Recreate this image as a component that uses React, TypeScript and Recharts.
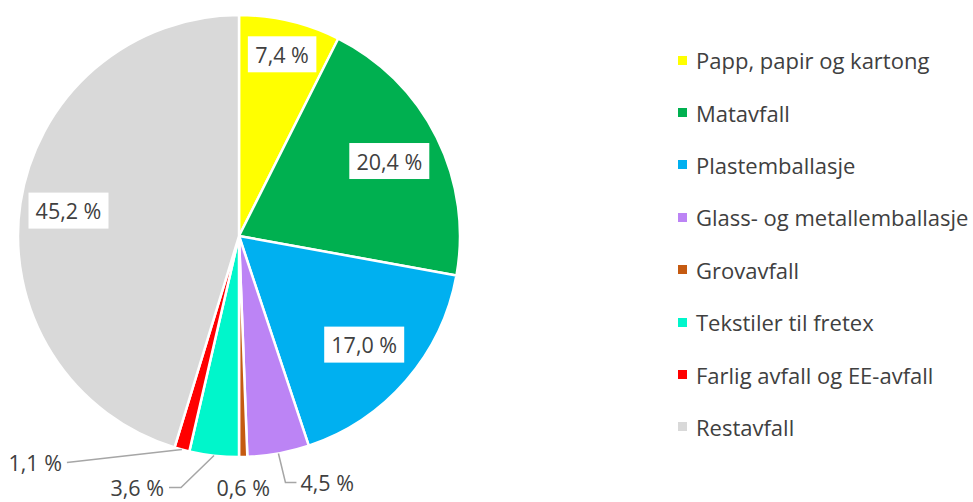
import { PieChart, Pie, Cell, Legend } from "recharts";

const categories = [
  "Papp, papir og kartong",
  "Matavfall",
  "Plastemballasje",
  "Glass- og metallemballasje",
  "Grovavfall",
  "Tekstiler til fretex",
  "Farlig avfall og EE-avfall",
  "Restavfall",
];
const shares = [7.4, 20.4, 17.0, 4.5, 0.6, 3.6, 1.1, 45.2];
const colors = [
  "#FFFF00",
  "#00B050",
  "#00B0F0",
  "#BC84F5",
  "#C55A11",
  "#00F6CB",
  "#FF0000",
  "#D9D9D9",
];

const data = categories.map((name, i) => ({ name, value: shares[i] }));

const RAD = Math.PI / 180;
const FONT = "'Open Sans', Lato, sans-serif";
const TEXT = "#404040";

const fmt = (v: number) => v.toFixed(1).replace(".", ",") + " %";

// radius factor for labels drawn inside the slice
const insideR: Record<number, number> = { 0: 0.845, 1: 0.76, 2: 0.75, 7: 0.78 };
// leader lines for the small slices: elbow offset from the slice edge, then a short tail
const outside: Record<number, { ex: number; ey: number; tail: number; line: boolean }> = {
  3: { ex: 7, ey: 29, tail: 11, line: true },
  4: { ex: 0, ey: 31, tail: 0, line: false },
  5: { ex: -33, ey: 32, tail: -12, line: true },
  6: { ex: -115, ey: 13, tail: 0, line: true },
};

function renderLabel(props: any) {
  const { cx, cy, midAngle, outerRadius, index, value } = props;
  const cos = Math.cos(-midAngle * RAD);
  const sin = Math.sin(-midAngle * RAD);
  const text = fmt(value);
  if (insideR[index] !== undefined) {
    const r = outerRadius * insideR[index];
    const x = cx + r * cos;
    const y = cy + r * sin;
    const w = text.length * 11.5 + 11;
    return (
      <g key={`l-${index}`}>
        <rect x={x - w / 2} y={y - 18} width={w} height={36} fill="#fff" />
        <text x={x} y={y} textAnchor="middle" dominantBaseline="central" fill={TEXT} fontSize={21.5} fontFamily={FONT}>
          {text}
        </text>
      </g>
    );
  }
  const o = outside[index];
  const sx = cx + outerRadius * cos;
  const sy = cy + outerRadius * sin;
  const ex = sx + o.ex;
  const ey = sy + o.ey;
  const tx = ex + o.tail;
  let anchor: "start" | "end" | "middle" = "middle";
  let lx = tx;
  if (o.line) {
    anchor = o.tail >= 0 && o.ex > 0 ? "start" : "end";
    lx = anchor === "start" ? tx + 4 : tx - 5;
  }
  return (
    <g key={`l-${index}`}>
      {o.line && (
        <polyline
          points={`${sx},${sy} ${ex},${ey} ${tx},${ey}`}
          fill="none"
          stroke="#a6a6a6"
          strokeWidth={1.5}
        />
      )}
      <text x={lx} y={ey} textAnchor={anchor} dominantBaseline="central" fill={TEXT} fontSize={21.5} fontFamily={FONT}>
        {text}
      </text>
    </g>
  );
}

function LegendList() {
  return (
    <div style={{ fontFamily: FONT, fontSize: 22, color: TEXT }}>
      {categories.map((c, i) => (
        <div key={c} style={{ display: "flex", alignItems: "center", height: 52.4 }}>
          <span style={{ width: 9, height: 9, background: colors[i], marginRight: 9, flexShrink: 0 }} />
          <span style={{ whiteSpace: "nowrap" }}>{c}</span>
        </div>
      ))}
    </div>
  );
}

export default function App() {
  return (
    <div style={{ position: "absolute", left: 0, top: 0, width: 973, height: 502, background: "#fff" }}>
      <PieChart width={973} height={502} margin={{ top: 0, right: 0, bottom: 0, left: 0 }}>
        <Pie
          data={data}
          dataKey="value"
          nameKey="name"
          cx={239}
          cy={236}
          outerRadius={221}
          startAngle={90}
          endAngle={-270}
          stroke="#fff"
          strokeWidth={2.5}
          label={renderLabel}
          labelLine={false}
          isAnimationActive={false}
        >
          {data.map((d, i) => (
            <Cell key={d.name} fill={colors[i]} />
          ))}
        </Pie>
        <Legend
          layout="vertical"
          content={() => <LegendList />}
          wrapperStyle={{ left: 678, top: 34, width: 295 }}
        />
      </PieChart>
    </div>
  );
}
